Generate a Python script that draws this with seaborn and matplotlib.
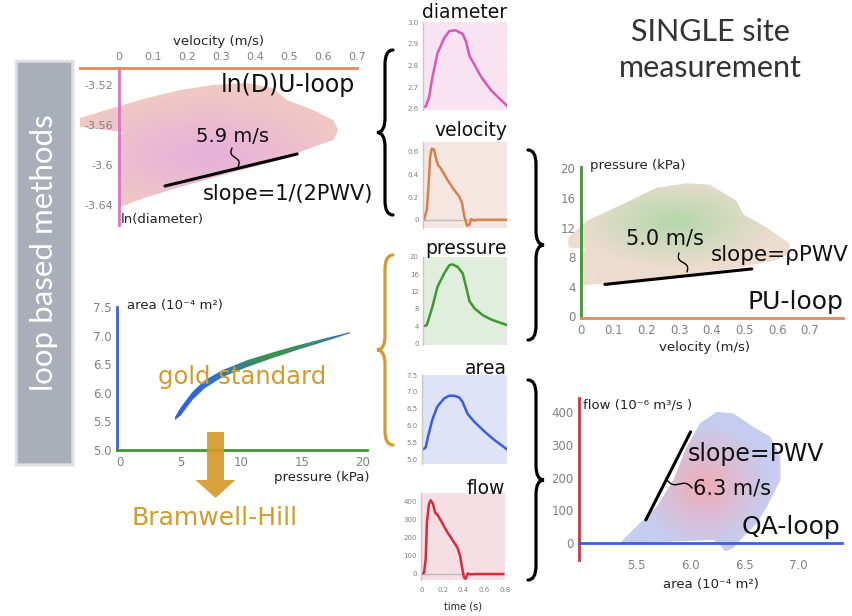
import numpy as np
import matplotlib
matplotlib.use("Agg")
import matplotlib.pyplot as plt
import seaborn as sns
from matplotlib.patches import Polygon, Rectangle, FancyArrow, PathPatch
from matplotlib.path import Path
from matplotlib.colors import to_rgb

sns.set_theme(style="white")
plt.rcParams["font.family"] = ["DejaVu Sans"]
plt.rcParams["axes.axisbelow"] = False

# ---------------- data ----------------
t_diam = [0.0, 0.016, 0.048, 0.08, 0.128, 0.192, 0.24, 0.30, 0.368, 0.40, 0.432, 0.464, 0.544, 0.64, 0.736, 0.80]
diam = [2.61, 2.611, 2.654, 2.747, 2.856, 2.926, 2.958, 2.962, 2.945, 2.91, 2.845, 2.817, 2.747, 2.685, 2.639, 2.611]

t_vel = [0.0, 0.026, 0.042, 0.058, 0.074, 0.096, 0.118, 0.134, 0.16, 0.224, 0.288, 0.336, 0.362, 0.384, 0.41, 0.432, 0.448, 0.474, 0.512, 0.8]
vel = [0.0, 0.088, 0.29, 0.556, 0.629, 0.62, 0.527, 0.483, 0.454, 0.351, 0.263, 0.205, 0.146, 0.029, -0.053, -0.044, 0.006, -0.006, 0.0, 0.0]

t_pres = [0.0, 0.026, 0.08, 0.128, 0.192, 0.24, 0.272, 0.32, 0.368, 0.40, 0.432, 0.48, 0.56, 0.64, 0.72, 0.794]
pres = [4.0, 4.2, 8.5, 13.1, 16.2, 18.1, 18.3, 17.7, 16.2, 13.1, 9.8, 8.1, 6.5, 5.5, 4.8, 4.2]

t_area = [0.0, 0.025, 0.047, 0.087, 0.134, 0.198, 0.245, 0.292, 0.34, 0.37, 0.39, 0.42, 0.48, 0.58, 0.67, 0.79]
area = [5.31, 5.37, 5.69, 6.18, 6.57, 6.81, 6.89, 6.89, 6.84, 6.72, 6.57, 6.35, 6.13, 5.83, 5.59, 5.31]

t_flow = [0.0, 0.019, 0.035, 0.047, 0.066, 0.082, 0.104, 0.127, 0.152, 0.184, 0.247, 0.31, 0.342, 0.367, 0.389, 0.405, 0.42, 0.443, 0.459, 0.516, 0.785]
flow = [0, 5, 79, 281, 382, 405, 387, 336, 323, 290, 226, 171, 143, 97, 24, -22, -28, 2, -4, -2, -2]

# ln(D)U loop outline (velocity m/s, ln diameter)
lnd_u = [-0.115, -0.018, 0.082, 0.18, 0.277, 0.376, 0.453, 0.494, 0.571, 0.63, 0.645, 0.63, 0.571, 0.474, 0.326, 0.18, 0.082, 0.003, -0.003, -0.003, 0.012, -0.115]
lnd_d = [-3.553, -3.543, -3.533, -3.525, -3.520, -3.518, -3.523, -3.535, -3.545, -3.555, -3.565, -3.575, -3.582, -3.595, -3.608, -3.622, -3.632, -3.642, -3.605, -3.572, -3.567, -3.562]
lnd_slope_u = [0.135, 0.524]
lnd_slope_d = [-3.621, -3.589]

# gold standard area-pressure
gs_p = [4.5, 5.0, 6.0, 7.0, 8.5, 10.5, 12.5, 14.5, 16.5, 19.0]
gs_area_up = [5.56, 5.74, 6.02, 6.22, 6.40, 6.57, 6.70, 6.82, 6.93, 7.06]
gs_area_lo = [5.52, 5.60, 5.88, 6.08, 6.28, 6.45, 6.60, 6.74, 6.87, 7.04]

# PU loop outline
pu_u = [-0.039, 0.017, 0.129, 0.231, 0.323, 0.394, 0.476, 0.496, 0.568, 0.639, 0.634, 0.588, 0.486, 0.333, 0.18, 0.079, 0.002, -0.003, -0.003, 0.017, -0.039]
pu_p = [10.6, 12.9, 15.2, 17.4, 18.0, 17.8, 15.6, 13.8, 12.0, 9.8, 8.4, 7.5, 6.6, 5.7, 4.8, 4.4, 4.2, 6.6, 8.6, 9.1, 9.3]
pu_slope_u = [0.073, 0.522]
pu_slope_p = [4.3, 6.4]

# QA loop outline
qa_a = [5.345, 5.53, 5.686, 5.84, 5.964, 6.087, 6.242, 6.396, 6.582, 6.737, 6.83, 6.83, 6.768, 6.706, 6.613, 6.489, 6.396, 6.319, 6.273, 6.211, 5.84]
qa_q = [0, 61, 111, 192, 294, 365, 400, 395, 354, 324, 263, 192, 152, 111, 61, 20, -15, -25, -5, 10, 5]
qa_slope_a = [5.586, 6.0]
qa_slope_q = [71, 339]

# ticks
lnd_xticks = [0, 0.1, 0.2, 0.3, 0.4, 0.5, 0.6, 0.7]
lnd_yticks = [-3.52, -3.56, -3.6, -3.64]
lnd_ylabels = ["-3.52", "-3.56", "-3.6", "-3.64"]
gs_xticks = [0, 5, 10, 15, 20]
gs_yticks = [5.0, 5.5, 6.0, 6.5, 7.0, 7.5]
pu_xticks = [0, 0.1, 0.2, 0.3, 0.4, 0.5, 0.6, 0.7]
pu_yticks = [0, 4, 8, 12, 16, 20]
qa_xticks = [5.5, 6.0, 6.5, 7.0]
qa_yticks = [0, 100, 200, 300, 400]

# ---------------- figure ----------------
W, H = 852, 616
fig = plt.figure(figsize=(W / 100, H / 100), dpi=100)
fig.patch.set_facecolor("white")


def px_axes(x0, y0, x1, y1, z=1):
    return fig.add_axes([x0 / W, 1 - y1 / H, (x1 - x0) / W, (y1 - y0) / H], zorder=z)


def gradient_fill(ax, xs, ys, colfun):
    poly = Polygon(np.column_stack([xs, ys]), closed=True, fc="none", ec="none")
    ax.add_patch(poly)
    x0, x1, y0, y1 = min(xs), max(xs), min(ys), max(ys)
    X, Y = np.meshgrid(np.linspace(x0, x1, 300), np.linspace(y0, y1, 300))
    img = colfun(X, Y)
    im = ax.imshow(img, extent=[x0, x1, y0, y1], origin="lower", aspect="auto",
                   interpolation="bilinear", zorder=1)
    im.set_clip_path(poly)


def radial(center, radii, inner, outer):
    ci, co = np.array(to_rgb(inner)), np.array(to_rgb(outer))

    def f(X, Y):
        r = np.sqrt(((X - center[0]) / radii[0]) ** 2 + ((Y - center[1]) / radii[1]) ** 2)
        t = np.clip(r, 0, 1)[..., None]
        return ci * (1 - t) + co * t
    return f


TICKC = "#808080"
GOLD = "#d49a2a"
LIGHTFONT = ["Lato", "Open Sans", "DejaVu Sans"]

# ---- ln(D)U loop ----
ax1 = px_axes(80, 68, 357, 225)
ax1.set_facecolor("none")
gradient_fill(ax1, lnd_u, lnd_d, radial((0.26, -3.59), (0.42, 0.065), "#e6b0dc", "#f0c9c3"))
ax1.plot(lnd_slope_u, lnd_slope_d, color="black", lw=2.2, zorder=3)
ax1.set_xlim(-0.115, 0.7)
ax1.set_ylim(-3.66, -3.503)
for s in ["bottom", "right"]:
    ax1.spines[s].set_visible(False)
ax1.spines["top"].set_color("#e8875a"); ax1.spines["top"].set_linewidth(2)
ax1.spines["left"].set_color("#e070c8"); ax1.spines["left"].set_linewidth(2)
ax1.spines["left"].set_position(("data", 0))
ax1.xaxis.tick_top()
ax1.set_xticks(lnd_xticks, [f"{v:g}" for v in lnd_xticks])
ax1.set_yticks(lnd_yticks, lnd_ylabels)
ax1.tick_params(length=0, labelsize=8, colors=TICKC, pad=4)
ax1.xaxis.set_label_position("top")
ax1.set_xlabel("velocity (m/s)", fontsize=9.5, color="#222", labelpad=5)

# ---- gold standard ----
ax2 = px_axes(117, 307, 367, 450)
ax2.set_facecolor("none")
stops_x = np.array([4.5, 8.0, 12.0, 16.0, 19.0])
stops_c = np.array([to_rgb(c) for c in ["#2c5ee6", "#2f74c8", "#3a9248", "#3a8a70", "#3868d0"]])


def gs_col(X, Y):
    return np.stack([np.interp(X, stops_x, stops_c[:, k]) for k in range(3)], axis=-1)


gradient_fill(ax2, gs_p + gs_p[::-1], gs_area_up + gs_area_lo[::-1], gs_col)
sns.lineplot(x=gs_p, y=gs_area_up, ax=ax2, color="none", lw=0)
ax2.set_xlim(-0.25, 20.4)
ax2.set_ylim(5.0, 7.5)
for s in ["top", "right"]:
    ax2.spines[s].set_visible(False)
ax2.spines["left"].set_color("#3a60e0"); ax2.spines["left"].set_linewidth(2)
ax2.spines["bottom"].set_color("#3a9a2a"); ax2.spines["bottom"].set_linewidth(2)
ax2.set_xticks(gs_xticks, [str(v) for v in gs_xticks])
ax2.set_yticks(gs_yticks, [f"{v:.1f}" for v in gs_yticks])
ax2.tick_params(length=0, labelsize=8.5, colors=TICKC, pad=4)
ax2.set_xlabel(""); ax2.set_ylabel("")

# ---- PU loop ----
ax3 = px_axes(566, 167, 843, 318)
ax3.set_facecolor("none")
gradient_fill(ax3, pu_u, pu_p, radial((0.29, 12.8), (0.32, 6.5), "#b3d8aa", "#eedcd0"))
ax3.plot(pu_slope_u, pu_slope_p, color="black", lw=2.2, zorder=3)
ax3.set_xlim(-0.046, 0.801)
ax3.set_ylim(-0.25, 20.2)
for s in ["top", "right"]:
    ax3.spines[s].set_visible(False)
ax3.spines["left"].set_color("#3c9a30"); ax3.spines["left"].set_linewidth(2)
ax3.spines["left"].set_position(("data", 0))
ax3.spines["bottom"].set_color("#e8875a"); ax3.spines["bottom"].set_linewidth(2)
ax3.spines["bottom"].set_bounds(0, 0.801)
ax3.set_xticks(pu_xticks, [f"{v:g}" for v in pu_xticks])
ax3.set_yticks(pu_yticks, [str(v) for v in pu_yticks])
ax3.tick_params(length=0, labelsize=8.5, colors=TICKC, pad=4)
ax3.set_xlabel("velocity (m/s)", fontsize=9.5, color="#222", labelpad=3)

# ---- QA loop ----
ax4 = px_axes(579, 398, 842, 560)
ax4.set_facecolor("none")
gradient_fill(ax4, qa_a, qa_q, radial((6.12, 175), (0.62, 190), "#f0acb6", "#c6cdf0"))
ax4.plot(qa_slope_a, qa_slope_q, color="black", lw=2.2, zorder=3)
ax4.set_xlim(4.968, 7.40)
ax4.set_ylim(-51, 442)
for s in ["top", "right"]:
    ax4.spines[s].set_visible(False)
ax4.spines["left"].set_color("#d8303c"); ax4.spines["left"].set_linewidth(2)
ax4.spines["bottom"].set_color("#3a60e0"); ax4.spines["bottom"].set_linewidth(2)
ax4.spines["bottom"].set_position(("data", 0))
ax4.set_xticks(qa_xticks, [f"{v:.1f}" for v in qa_xticks])
ax4.set_yticks(qa_yticks, [str(v) for v in qa_yticks])
ax4.tick_params(axis="y", length=0, labelsize=8.5, colors=TICKC, pad=4)
ax4.tick_params(axis="x", length=0, labelsize=8.5, colors=TICKC, pad=11)
ax4.set_xlabel("area (10⁻⁴ m²)", fontsize=9.5, color="#222", labelpad=5)

# ---- small time panels ----
panels = [
    ((423, 22, 507, 110), t_diam, diam, "#d957b8", "#f9e3f0", (2.595, 3.0), [2.6, 2.7, 2.8, 2.9, 3.0], ["2.6", "2.7", "2.8", "2.9", "3.0"], False),
    ((423, 142, 507, 228), t_vel, vel, "#d9804a", "#f6e6e1", (-0.073, 0.688), [0, 0.2, 0.4, 0.6], ["0", "0.2", "0.4", "0.6"], True),
    ((423, 257, 507, 345), t_pres, pres, "#3a9a2a", "#e2eedd", (-0.4, 20.0), [0, 4, 8, 12, 16, 20], ["0", "4", "8", "12", "16", "20"], False),
    ((422, 375, 507, 464), t_area, area, "#3a5ee0", "#dfe3f7", (4.88, 7.5), [5.0, 5.5, 6.0, 6.5, 7.0, 7.5], ["5.0", "5.5", "6.0", "6.5", "7.0", "7.5"], False),
    ((421, 493, 505, 580), t_flow, flow, "#d82a3a", "#f6dfe4", (-35, 445), [0, 100, 200, 300, 400], ["0", "100", "200", "300", "400"], True),
]
for i, (box, tx, ty, col, bg, ylim, yt, ytl, zero) in enumerate(panels):
    a = px_axes(*box)
    a.set_facecolor(bg)
    if zero:
        a.axhline(0, color="#bcbcbc", lw=1, zorder=1)
    sns.lineplot(x=tx, y=ty, ax=a, color=col, lw=1.8, zorder=2)
    a.set_xlim(-0.01, 0.79)
    a.set_ylim(*ylim)
    for s in ["top", "right", "bottom"]:
        a.spines[s].set_visible(False)
    a.spines["left"].set_color("#c8c8c8"); a.spines["left"].set_linewidth(1)
    a.set_yticks(yt, ytl)
    a.tick_params(length=0, labelsize=5, colors=TICKC, pad=3)
    if i == 4:
        a.set_xticks([0, 0.2, 0.4, 0.6, 0.8], ["0", "0.2", "0.4", "0.6", "0.8"])
        a.tick_params(axis="x", pad=5)
        a.set_xlabel("time (s)", fontsize=7, color="#222", labelpad=6)
    else:
        a.set_xticks([])
        a.set_xlabel("")
    a.set_ylabel("")

# ---------------- overlay decorations ----------------
ov = fig.add_axes([0, 0, 1, 1], zorder=10)
ov.set_xlim(0, W); ov.set_ylim(H, 0); ov.axis("off"); ov.patch.set_alpha(0)

# sidebar with soft edges
for k in range(6, 0, -1):
    ov.add_patch(Rectangle((18 - k * 0.7, 63 - k * 0.7), 53 + 1.4 * k, 400 + 1.4 * k,
                           fc="#a9aeb8", ec="none", alpha=0.12))
ov.add_patch(Rectangle((18, 63), 53, 400, fc="#a9aeb8", ec="none"))
ov.text(44, 253, "loop based methods", rotation=90, ha="center", va="center",
        fontsize=22.5, color="white", family=LIGHTFONT)

# title
ov.text(710, 32, "SINGLE site", ha="center", va="center", fontsize=22, color="#333333",
        family=LIGHTFONT)
ov.text(710, 68, "measurement", ha="center", va="center", fontsize=22, color="#333333",
        family=LIGHTFONT)


def brace(x, y0, y1, w, color, lw=2.3):
    ym = (y0 + y1) / 2
    r = abs(w) * 0.9
    verts = [(x + w / 2, y0), (x, y0), (x, y0 + r), (x, ym - r), (x, ym), (x - w / 2, ym),
             (x, ym), (x, ym + r), (x, y1 - r), (x, y1), (x + w / 2, y1)]
    codes = [Path.MOVETO, Path.CURVE3, Path.CURVE3, Path.LINETO, Path.CURVE3, Path.CURVE3,
             Path.CURVE3, Path.CURVE3, Path.LINETO, Path.CURVE3, Path.CURVE3]
    ov.add_patch(PathPatch(Path(verts, codes), fc="none", ec=color, lw=lw, capstyle="round"))


brace(385, 50, 215, 16, "black")
brace(385, 255, 445, 16, GOLD)
brace(536, 150, 340, -16, "black")
brace(536, 380, 580, -16, "black")


def squiggle(p0, p1, amp=3):
    p0, p1 = np.array(p0, float), np.array(p1, float)
    s = np.linspace(0, 1, 40)
    d = p1 - p0
    n = np.array([-d[1], d[0]]) / np.hypot(*d)
    pts = p0[None, :] + s[:, None] * d[None, :] + amp * np.sin(2 * np.pi * s)[:, None] * n[None, :]
    ov.plot(pts[:, 0], pts[:, 1], color="black", lw=1)


squiggle((232, 148), (238, 167), 2.5)
squiggle((679, 253), (687, 272), 2.5)
squiggle((667, 480), (692, 488), 2.5)

# gold arrow
ov.add_patch(FancyArrow(215.5, 432, 0, 66, width=17, head_width=40, head_length=18,
                        length_includes_head=True, fc=GOLD, ec="none", alpha=0.92))

# loop texts
ov.text(288, 85, "ln(D)U-loop", ha="center", va="center", fontsize=17, color="#111")
ov.text(232, 136, "5.9 m/s", ha="center", va="center", fontsize=14, color="#111")
ov.text(288, 194, "slope=1/(2PWV)", ha="center", va="center", fontsize=15, color="#111")
ov.text(121, 219, "ln(diameter)", ha="left", va="center", fontsize=9.5, color="#222")

ov.text(127, 305, "area (10⁻⁴ m²)", ha="left", va="center", fontsize=9.5, color="#222")
ov.text(370, 478, "pressure (kPa)", ha="right", va="center", fontsize=9.5, color="#222")
ov.text(242, 377, "gold standard", ha="center", va="center", fontsize=17.5, color=GOLD)
ov.text(215, 518, "Bramwell-Hill", ha="center", va="center", fontsize=18, color=GOLD)

ov.text(590, 165, "pressure (kPa)", ha="left", va="center", fontsize=9.5, color="#222")
ov.text(665, 238, "5.0 m/s", ha="center", va="center", fontsize=15, color="#111")
ov.text(780, 255, "slope=ρPWV", ha="center", va="center", fontsize=15.5, color="#111")
ov.text(843, 302, "PU-loop", ha="right", va="center", fontsize=18, color="#111")

ov.text(583, 405, "flow (10⁻⁶ m³/s )", ha="left", va="center", fontsize=9.5, color="#222")
ov.text(688, 454, "slope=PWV", ha="left", va="center", fontsize=17, color="#111")
ov.text(693, 489, "6.3 m/s", ha="left", va="center", fontsize=15, color="#111")
ov.text(840, 527, "QA-loop", ha="right", va="center", fontsize=18, color="#111")

# small panel titles
ov.text(507, 13, "diameter", ha="right", va="center", fontsize=13.5, color="#111")
ov.text(507, 131, "velocity", ha="right", va="center", fontsize=13.5, color="#111")
ov.text(507, 249, "pressure", ha="right", va="center", fontsize=13.5, color="#111")
ov.text(507, 369, "area", ha="right", va="center", fontsize=13.5, color="#111")
ov.text(505, 489, "flow", ha="right", va="center", fontsize=13.5, color="#111")

fig.savefig("out.png", dpi=100)
